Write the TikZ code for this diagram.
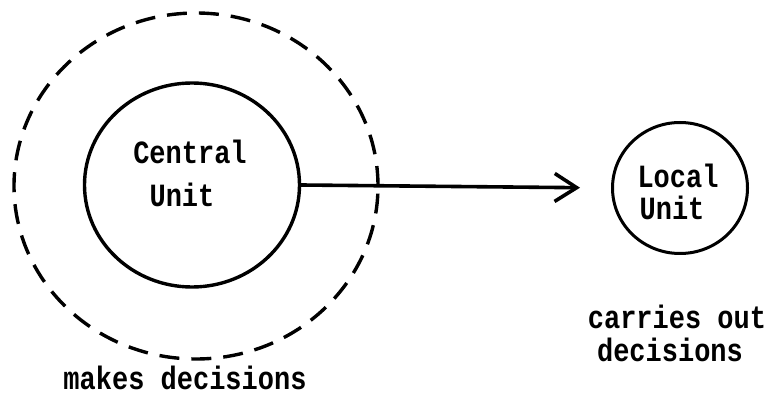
\documentclass[tikz,border=0pt]{standalone}
\usepackage{fontspec}
\setmonofont{Liberation Mono}
\usetikzlibrary{shapes.geometric,arrows.meta}
\tikzset{
  ring/.style={draw=black, ellipse, inner sep=0pt, line width=3.4pt},
  outerring/.style={ring, dash pattern=on 20pt off 12pt},
  lbl/.style={font=\fontsize{27}{27}\ttfamily\bfseries, inner sep=0pt, anchor=center},
  conn/.style={line width=3.6pt, -{Straight Barb[length=22pt,width=28pt,line width=3.6pt]}}
}
\begin{document}
\begin{tikzpicture}[x=1pt,y=-1pt]
\useasboundingbox (0,0) rectangle (771,395);
\node[outerring, minimum width=364pt, minimum height=346pt] (outer) at (196,186) {};
\node[ring, minimum width=215pt, minimum height=204pt] (central) at (192,185) {};
\node[ring, line width=3pt, minimum width=135pt, minimum height=131pt] (local) at (680,188) {};
\node[lbl] (t1) at (190,152) {\scalebox{1}[1.2]{Central}};
\node[lbl] (t2) at (182,195) {\scalebox{1}[1.2]{Unit}};
\node[lbl] (t3) at (678,176) {\scalebox{1}[1.2]{Local}};
\node[lbl] (t4) at (672,208) {\scalebox{1}[1.2]{Unit}};
\node[lbl] (t5) at (185,378) {\scalebox{1}[1.2]{makes decisions}};
\node[lbl] (t6) at (677,317) {\scalebox{1}[1.2]{carries out}};
\node[lbl] (t7) at (670,350) {\scalebox{1}[1.2]{decisions}};
\draw[conn, shorten >=31pt] (central.east) -- (local.west);
\end{tikzpicture}
\end{document}
